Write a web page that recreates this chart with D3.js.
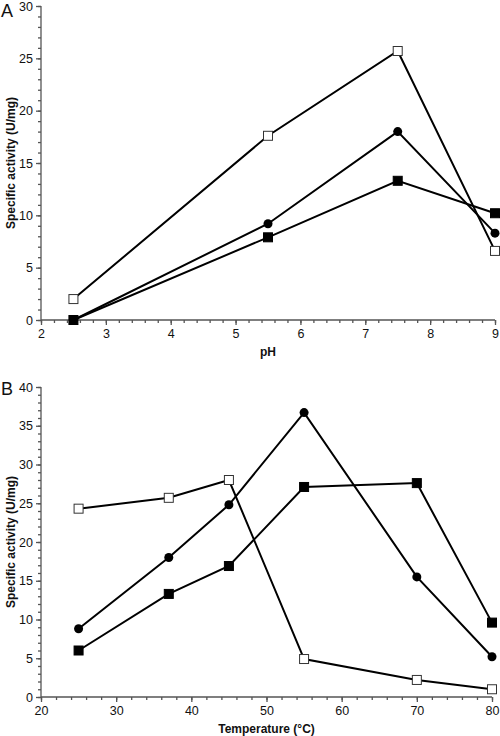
<!DOCTYPE html>
<html><head><meta charset="utf-8">
<script src="https://cdn.jsdelivr.net/npm/d3@7"></script>
<style>body{margin:0;background:#fff}svg{display:block}text{font-family:"Liberation Sans",Arial,sans-serif}</style>
</head><body><svg id="c" width="500" height="736"></svg>
<script>
const phX = [2.5, 5.5, 7.5, 9];
const phOpenSq = [2.0, 17.6, 25.7, 6.6];
const phCircle = [0, 9.2, 18.0, 8.3];
const phFilledSq = [0, 7.9, 13.3, 10.2];
const phXTicks = [2,3,4,5,6,7,8,9];
const phYTicks = [0,5,10,15,20,25,30];

const tX = [25, 37, 45, 55, 70, 80];
const tOpenSq = [24.3, 25.7, 28.0, 4.9, 2.2, 1.0];
const tCircle = [8.8, 18.0, 24.8, 36.7, 15.5, 5.2];
const tFilledSq = [6.0, 13.3, 16.9, 27.1, 27.6, 9.6];
const tXTicks = [20,30,40,50,60,70,80];
const tYTicks = [0,5,10,15,20,25,30,35,40];

const svg = d3.select("#c");

function panel(o){
  const g = svg.append("g");
  const x = d3.scaleLinear().domain(o.xd).range([41, o.xr]);
  const y = d3.scaleLinear().domain(o.yd).range([o.y0, o.y1]);
  const xMinor = d3.range(o.xd[0], o.xd[1] + 1e-9, o.xMinorStep);
  const yMinor = d3.range(o.yd[0], o.yd[1] + 1e-9, 1);
  const xa = g.append("g").attr("transform", `translate(0,${o.y0})`)
    .call(d3.axisBottom(x).tickValues(xMinor).tickSize(3).tickFormat(""));
  const xa2 = g.append("g").attr("transform", `translate(0,${o.y0})`)
    .call(d3.axisBottom(x).tickValues(o.xTicks).tickSize(5).tickPadding(4).tickFormat(d3.format("d")));
  const ya = g.append("g").attr("transform", `translate(41,0)`)
    .call(d3.axisLeft(y).tickValues(yMinor).tickSize(3).tickFormat(""));
  const ya2 = g.append("g").attr("transform", `translate(41,0)`)
    .call(d3.axisLeft(y).tickValues(o.yTicks).tickSize(5).tickPadding(3).tickFormat(d3.format("d")));
  [xa,xa2,ya,ya2].forEach(a=>{
    a.selectAll("path,line").attr("stroke","#555").attr("stroke-width",1.3);
    a.selectAll("text").attr("font-size",12.5).attr("fill","#111");
  });
  xa.select(".domain").remove(); ya.select(".domain").remove();
  xa2.select(".domain").attr("d", `M${x(o.xd[0])},0H${x(o.xd[1])}`);
  ya2.select(".domain").attr("d", `M0,${y(o.yd[0])}V${y(o.yd[1])}`);

  const line = d3.line().x(d=>x(d[0])).y(d=>y(d[1]));
  const series = [
    {v:o.open, type:"sq", fill:"#fff"},
    {v:o.circ, type:"circ", fill:"#000"},
    {v:o.fsq, type:"sq", fill:"#000"}
  ];
  series.forEach(s=>{
    const pts = o.xs.map((xv,i)=>[xv, s.v[i]]);
    g.append("path").attr("d", line(pts)).attr("fill","none").attr("stroke","#000").attr("stroke-width",2);
  });
  series.forEach(s=>{
    const pts = o.xs.map((xv,i)=>[xv, s.v[i]]);
    if(s.type==="sq"){
      g.selectAll(null).data(pts).enter().append("rect")
        .attr("x", d=>x(d[0])-4.5).attr("y", d=>y(d[1])-4.5)
        .attr("width",9).attr("height",9)
        .attr("fill", s.fill).attr("stroke", s.fill==="#fff"?"#333":"#000").attr("stroke-width",1);
    } else {
      g.selectAll(null).data(pts).enter().append("circle")
        .attr("cx", d=>x(d[0])).attr("cy", d=>y(d[1])).attr("r",4.5).attr("fill","#000");
    }
  });
  g.append("text").attr("x", 1).attr("y", o.letterY).attr("font-size",18).attr("fill","#111").text(o.letter);
  g.append("text").attr("transform", `translate(15,${(o.y0+o.y1)/2}) rotate(-90)`)
    .attr("text-anchor","middle").attr("font-size",12).attr("font-weight","bold").attr("fill","#111")
    .text("Specific activity (U/mg)");
  g.append("text").attr("x", (41+o.xr)/2).attr("y", o.xlabY).attr("text-anchor","middle")
    .attr("font-size",12).attr("font-weight","bold").attr("fill","#111").text(o.xlabel);
}

panel({xd:[2,9], xr:495, yd:[0,30], y0:320, y1:6, xTicks:phXTicks, yTicks:phYTicks, xMinorStep:0.2,
  xs:phX, open:phOpenSq, circ:phCircle, fsq:phFilledSq, letter:"A", letterY:17, xlabel:"pH", xlabY:356});
panel({xd:[20,80], xr:492, yd:[0,40], y0:697, y1:387, xTicks:tXTicks, yTicks:tYTicks, xMinorStep:2,
  xs:tX, open:tOpenSq, circ:tCircle, fsq:tFilledSq, letter:"B", letterY:395, xlabel:"Temperature (°C)", xlabY:733});
</script></body></html>
